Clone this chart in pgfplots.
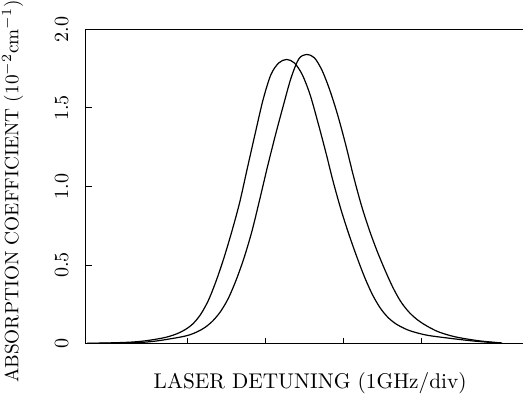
\documentclass[border=0pt]{standalone}
\usepackage{pgfplots}
\pgfplotsset{compat=1.18}
\begin{document}
\begin{tikzpicture}
\begin{axis}[
  scale only axis,
  width=218pt, height=156.5pt,
  xmin=-3.3, xmax=2.3,
  ymin=0, ymax=2.0,
  axis x line=box,
  axis y line=left,
  axis line style={-, line width=0.6pt},
  xtick={-2,-1,0,1},
  xticklabels={},
  xtick pos=bottom,
  ytick={0,0.5,1.0,1.5,2.0},
  yticklabels={0,0.5,1.0,1.5,2.0},
  ytick pos=left,
  tick align=inside,
  major tick length=3pt,
  tick style={line width=0.5pt, black},
  yticklabel style={rotate=90, anchor=south, inner sep=0pt, outer sep=0pt},
  yticklabel shift=8.5pt,
  xlabel={LASER DETUNING (1GHz/div)},
  xlabel style={at={(axis description cs:0.513,-0.1438)}, anchor=base, inner sep=0pt, font=\fontsize{10.6}{12}\selectfont},
  ylabel={ABSORPTION COEFFICIENT (10$^{-2}$cm$^{-1}$)},
  ylabel style={at={(axis description cs:-0.1535,0.484)}, anchor=base, rotate=0, inner sep=0pt, font=\fontsize{9.6}{11}\selectfont},
]
\addplot[black, line width=0.6pt, smooth] coordinates {
(-3.279,0.002)(-3.029,0.004)(-2.729,0.009)(-2.529,0.018)(-2.329,0.034)(-2.229,0.046)(-2.129,0.063)(-2.029,0.088)(-1.929,0.125)(-1.829,0.185)(-1.729,0.275)(-1.629,0.400)(-1.529,0.547)(-1.429,0.714)(-1.329,0.898)(-1.229,1.120)(-1.129,1.340)(-1.029,1.553)(-0.929,1.712)(-0.829,1.786)(-0.729,1.808)
(-0.629,1.786)(-0.529,1.712)(-0.429,1.585)(-0.329,1.409)(-0.229,1.221)(-0.129,1.023)(-0.029,0.846)(0.071,0.691)(0.171,0.550)(0.271,0.420)(0.371,0.310)(0.471,0.225)(0.571,0.165)(0.671,0.125)(0.771,0.098)(0.871,0.078)(1.071,0.053)(1.371,0.033)(1.671,0.016)(1.971,0.004)
};
\addplot[black, line width=0.6pt, smooth] coordinates {
(-3.272,0.001)(-2.872,0.003)(-2.572,0.008)(-2.372,0.018)(-2.172,0.034)(-2.072,0.043)(-1.972,0.055)(-1.872,0.075)(-1.772,0.103)(-1.672,0.145)(-1.572,0.205)(-1.472,0.290)(-1.372,0.407)(-1.272,0.547)(-1.172,0.715)(-1.072,0.918)(-0.972,1.128)(-0.872,1.326)(-0.772,1.512)(-0.672,1.690)(-0.572,1.812)(-0.472,1.840)
(-0.372,1.818)(-0.272,1.735)(-0.172,1.607)(-0.072,1.449)(0.028,1.264)(0.128,1.063)(0.228,0.880)(0.328,0.725)(0.428,0.590)(0.528,0.470)(0.628,0.360)(0.728,0.270)(0.828,0.205)(0.928,0.158)(1.028,0.123)(1.128,0.095)(1.228,0.072)(1.428,0.043)(1.728,0.018)(2.028,0.004)
};
\end{axis}
\path ([xshift=-1pt]current bounding box.west);
\end{tikzpicture}
\end{document}
